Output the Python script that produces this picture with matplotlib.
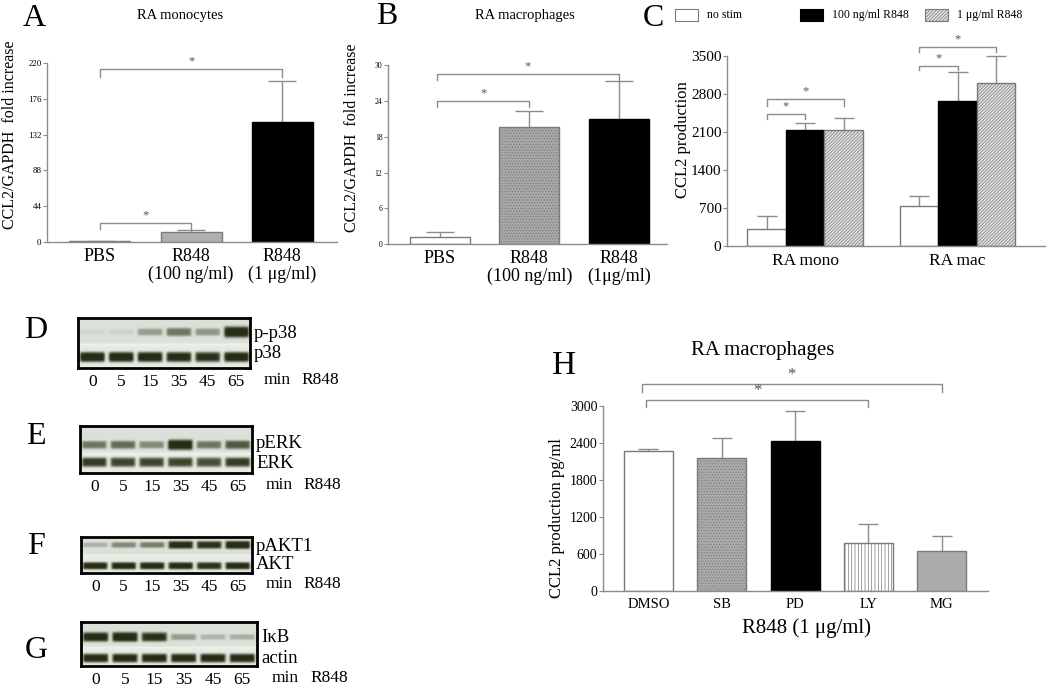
import numpy as np
import matplotlib
matplotlib.use('Agg')
import matplotlib.pyplot as plt
from matplotlib.patches import Rectangle

plt.rcParams['font.family'] = ['Liberation Serif', 'DejaVu Serif']
plt.rcParams['hatch.linewidth'] = 0.5

# ---------------- data ----------------
A_cats = ['PBS', 'R848\n(100 ng/ml)', 'R848\n(1 μg/ml)']
A_vals = [1.0, 12.2, 147.8]
A_err = [0.8, 2.8, 49.7]
A_ticks = [0, 44, 88, 132, 176, 220]

B_cats = ['PBS', 'R848\n(100 ng/ml)', 'R848\n(1μg/ml)']
B_vals = [1.3, 19.7, 21.0]
B_err = [0.7, 2.6, 6.3]
B_ticks = [0, 6, 12, 18, 24, 30]

C_groups = ['RA mono', 'RA mac']
C_series = ['no stim', '100 ng/ml R848', '1 μg/ml R848']
C_nostim = [306, 729]
C_100 = [2139, 2660]
C_1ug = [2133, 2997]
C_nostim_err = [252, 184]
C_100_err = [129, 533]
C_1ug_err = [215, 503]
C_ticks = [0, 700, 1400, 2100, 2800, 3500]

H_cats = ['DMSO', 'SB', 'PD', 'LY', 'MG']
H_vals = [2276, 2151, 2438, 773, 643]
H_err = [32, 325, 481, 308, 254]
H_ticks = [0, 600, 1200, 1800, 2400, 3000]

lanes = ['0', '5', '15', '35', '45', '65']
D_top = [0.06, 0.07, 0.35, 0.55, 0.38, 1.0]
D_bot = [1.0, 1.0, 1.0, 0.95, 0.9, 1.0]
E_top = [0.55, 0.6, 0.45, 1.0, 0.55, 0.7]
E_bot = [0.85, 0.8, 0.8, 0.8, 0.75, 0.85]
F_top = [0.25, 0.45, 0.5, 0.95, 0.9, 1.0]
F_bot = [0.95, 0.95, 0.95, 0.95, 0.9, 0.95]
G_top = [0.95, 1.0, 0.9, 0.35, 0.22, 0.25]
G_bot = [0.95, 0.95, 0.95, 0.95, 0.95, 0.95]

# ---------------- figure ----------------
W, H = 1050, 691
fig = plt.figure(figsize=(W / 100, H / 100), dpi=100)
GRAY = '#8c8c8c'
EDGE = '#7a7a7a'


def add_ax(l, t, r, b):
    return fig.add_axes([l / W, 1 - b / H, (r - l) / W, (b - t) / H])


def ftext(x, y, s, **kw):
    kw.setdefault('ha', 'center')
    kw.setdefault('va', 'center')
    return fig.text(x / W, 1 - y / H, s, **kw)


def style_axes(ax, ticks, tfs):
    for s in ('top', 'right'):
        ax.spines[s].set_visible(False)
    for s in ('left', 'bottom'):
        ax.spines[s].set_color(GRAY)
        ax.spines[s].set_linewidth(1.0)
    ax.set_yticks(ticks)
    ax.tick_params(axis='y', length=3, width=0.8, color=GRAY, labelsize=tfs, pad=1)
    ax.tick_params(axis='x', length=0)


def bracket(ax, x0, x1, y, drop, fs=9, star_off=0.0, color=GRAY):
    ax.plot([x0, x0, x1, x1], [y - drop, y, y, y - drop], color=color, lw=1.0,
            clip_on=False)
    ax.text((x0 + x1) / 2, y + star_off, '*', ha='center', va='bottom', fontsize=fs,
            color='#555555', clip_on=False)


def errs(ax, x, v, e, cap):
    v = np.asarray(v, float)
    e = np.asarray(e, float)
    ax.vlines(x, v, v + e, color=GRAY, lw=1.0, zorder=1)
    ax.plot(x, v + e, ls='none', marker='_', ms=2 * cap, mew=1.0, color=GRAY,
            zorder=1, clip_on=False)


# ---------- Panel A ----------
axA = add_ax(47, 62.7, 337, 242.3)
xA = np.arange(len(A_cats))
axA.bar(xA, A_vals, width=0.67, color=['white', '#b0b0b0', 'black'],
        edgecolor=[EDGE, EDGE, 'black'], linewidth=1.0, zorder=2)
errs(axA, xA, A_vals, A_err, 10)
axA.set_xlim(-0.58, 2.6)
axA.set_ylim(0, 220)
style_axes(axA, A_ticks, 6.5)
axA.set_xticks(xA)
axA.set_xticklabels(A_cats, fontsize=13, linespacing=1.1)
axA.tick_params(axis='x', pad=4)
bracket(axA, 0, 2, 212, 9, star_off=2)
bracket(axA, 0, 1, 24, 8, star_off=2)
ftext(34, 18, 'A', fontsize=23)
ftext(180, 15, 'RA monocytes', fontsize=10.5)
ftext(10, 135, 'CCL2/GAPDH  fold increase', rotation=90, fontsize=11.5)

# ---------- Panel B ----------
axB = add_ax(388, 65, 667, 244.3)
xB = np.arange(len(B_cats))
axB.bar(xB, B_vals, width=0.67, color=['white', '#a8a8a8', 'black'],
        edgecolor=[EDGE, EDGE, 'black'], linewidth=1.0, hatch=['', '......', ''],
        zorder=2)
errs(axB, xB, B_vals, B_err, 10)
axB.set_xlim(-0.58, 2.54)
axB.set_ylim(0, 30)
style_axes(axB, B_ticks, 5.5)
axB.set_xticks(xB)
axB.set_xticklabels(B_cats, fontsize=13, linespacing=1.1)
axB.tick_params(axis='x', pad=4)
bracket(axB, -0.03, 2, 28.5, 1.0, star_off=0.3)
bracket(axB, -0.03, 1, 23.9, 0.85, star_off=0.3)
ftext(387, 17, 'B', fontsize=23)
ftext(525, 15, 'RA macrophages', fontsize=10.5)
ftext(352, 138, 'CCL2/GAPDH  fold increase', rotation=90, fontsize=11.5)

# ---------- Panel C ----------
axC = add_ax(727, 55.7, 1045, 246)
gpos = np.array([0.0, 3.96])
series_vals = [C_nostim, C_100, C_1ug]
series_err = [C_nostim_err, C_100_err, C_1ug_err]
fcs = ['white', 'black', '#e0e0e0']
ecs = [EDGE, 'black', EDGE]
hts = ['', '', '//////////']
for k in range(3):
    xs = gpos + (k - 1)
    axC.bar(xs, series_vals[k], width=1.0, color=fcs[k], edgecolor=ecs[k],
            hatch=hts[k], linewidth=1.0, zorder=2)
    errs(axC, xs, series_vals[k], series_err[k], 7)
axC.set_xlim(-2.03, 6.23)
axC.set_ylim(0, 3500)
style_axes(axC, C_ticks, 11)
axC.set_xticks(gpos)
axC.set_xticklabels(C_groups, fontsize=12.5)
axC.tick_params(axis='x', pad=5)
bracket(axC, gpos[0] - 1, gpos[0], 2421, 92, star_off=30)
bracket(axC, gpos[0] - 1, gpos[0] + 1, 2697, 123, star_off=30)
bracket(axC, gpos[1] - 1, gpos[1], 3316, 80, star_off=30)
bracket(axC, gpos[1] - 1, gpos[1] + 1, 3653, 92, star_off=30)
ftext(653, 18, 'C', fontsize=23)
ftext(683, 140, 'CCL2 production', rotation=90, fontsize=12)
# legend
leg_x = [675, 800, 925]
for k in range(3):
    fig.add_artist(Rectangle((leg_x[k] / W, 1 - 21 / H), 23 / W, 12 / H,
                             transform=fig.transFigure, facecolor=fcs[k],
                             edgecolor=ecs[k], hatch=hts[k], linewidth=0.8))
    ftext(leg_x[k] + 32, 15, C_series[k], ha='left', fontsize=8.5)

# ---------- Panel H ----------
axH = add_ax(603, 406, 988, 591)
xH = np.arange(len(H_cats))
axH.bar(xH, H_vals, width=0.67,
        color=['white', '#ababab', 'black', 'white', '#ababab'],
        edgecolor=[EDGE, EDGE, 'black', EDGE, EDGE],
        hatch=['', '......', '', '|||||', ''], linewidth=1.0, zorder=2)
errs(axH, xH, H_vals, H_err, 7)
axH.set_xlim(-0.62, 4.63)
axH.set_ylim(0, 3000)
style_axes(axH, H_ticks, 10)
axH.set_xticks(xH)
axH.set_xticklabels(H_cats, fontsize=10.5)
axH.tick_params(axis='x', pad=5)
bracket(axH, -0.09, 4, 3357, 124, fs=12, star_off=10)
bracket(axH, -0.04, 3, 3097, 119, fs=12, star_off=10)
ftext(564, 366, 'H', fontsize=24)
ftext(763, 350, 'RA macrophages', fontsize=15)
ftext(557, 518, 'CCL2 production pg/ml', rotation=90, fontsize=12)
ftext(807, 628, 'R848 (1 μg/ml)', fontsize=15)

# ---------- Blots ----------
BG_TOP = np.array([0.86, 0.885, 0.85])
BG_BOT = np.array([0.90, 0.92, 0.89])
DARK = np.array([0.15, 0.18, 0.08])


def blot(box, top, bot, ytop, ybot, labels, letter, letter_y, label_pos):
    l, t, r, b = box
    ax = add_ax(l, t, r, b)
    nrow, ncol = 80, 6 * 40
    yy = (np.arange(nrow) + 0.5) / nrow
    xx = (np.arange(ncol) + 0.5) / ncol * 6
    u = (xx % 1.0) - 0.5
    xmask = 1.0 / (1.0 + np.exp((np.abs(u) - 0.42) / 0.025))
    lane = np.clip(xx.astype(int), 0, 5)
    split = (ytop + ybot) / 2
    img = np.where(yy[:, None, None] < split, BG_TOP, BG_BOT) * np.ones((nrow, ncol, 3))
    strip = np.exp(-((yy - split) / 0.03) ** 2)[:, None, None]
    img = img * (1 - 0.6 * strip) + 0.6 * strip * np.array([0.97, 0.97, 0.96])
    d = np.zeros((nrow, ncol))
    ti = np.array(top)[lane]
    bi = np.array(bot)[lane]
    d += ti * xmask * np.exp(-((yy[:, None] - ytop) / (0.05 + 0.06 * ti)) ** 4)
    d += bi * xmask * np.exp(-((yy[:, None] - ybot) / 0.1) ** 4)
    d = np.clip(d * 1.1, 0, 1)[:, :, None]
    img = img * (1 - d) + DARK * d
    ax.imshow(img, extent=(0, 6, 1, 0), aspect='auto', interpolation='bilinear')
    ax.set_xlim(0, 6)
    ax.set_ylim(1, 0)
    for s in ax.spines.values():
        s.set_linewidth(2.0)
        s.set_color('black')
    ax.set_xticks(np.arange(6) + 0.5)
    ax.set_xticklabels(lanes, fontsize=12.5)
    ax.tick_params(axis='x', length=0, pad=4)
    ax.yaxis.tick_right()
    ax.set_yticks(label_pos)
    ax.set_yticklabels(labels, fontsize=13.5)
    ax.tick_params(axis='y', length=0, pad=3)
    tr = ax.get_xaxis_transform()
    ax.text(6.95, -0.08, 'min', transform=tr, ha='center', va='top', fontsize=12.5,
            clip_on=False)
    ax.text(8.45, -0.08, 'R848', transform=tr, ha='center', va='top', fontsize=12.5,
            clip_on=False)
    ftext(36, letter_y, letter, fontsize=23)
    return ax


blot((78, 318, 250, 368), D_top, D_bot, 0.28, 0.78, ['p-p38', 'p38'], 'D', 330,
     [0.28, 0.68])
blot((80, 426, 252, 473), E_top, E_bot, 0.40, 0.77, ['pERK', 'ERK'], 'E', 437,
     [0.32, 0.76])
blot((81, 537, 252, 573), F_top, F_bot, 0.22, 0.80, ['pAKT1', 'AKT'], 'F', 547,
     [0.22, 0.70])
blot((81, 622, 257, 666), G_top, G_bot, 0.34, 0.82, ['IκB', 'actin'], 'G', 650,
     [0.30, 0.78])

fig.savefig('out.png', dpi=100)
